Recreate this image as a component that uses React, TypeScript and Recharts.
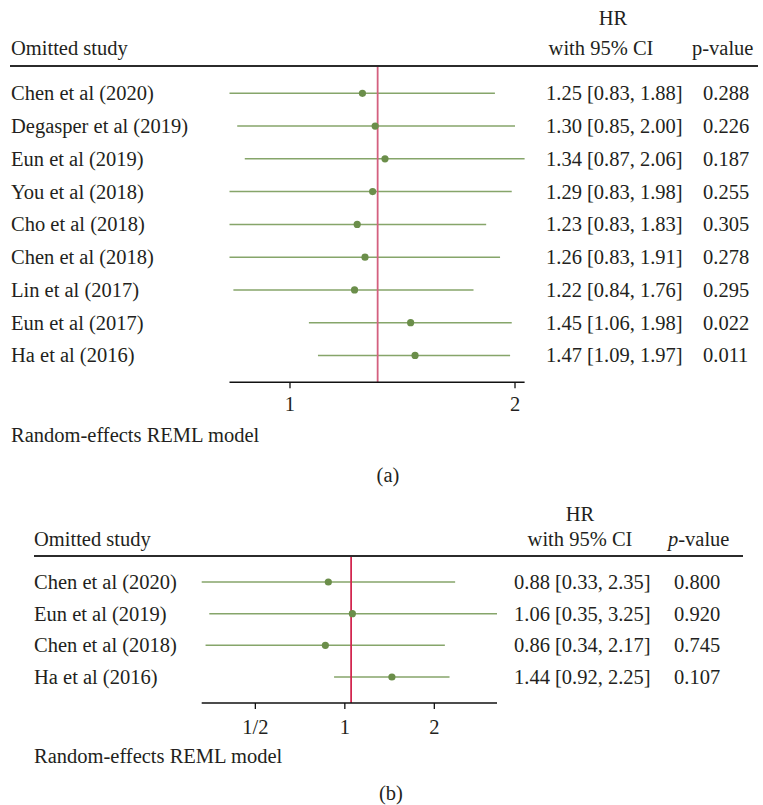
import React from 'react'
import { ScatterChart, Scatter, XAxis, YAxis, ErrorBar, ReferenceLine } from 'recharts'

// panel (a): all studies
const studiesA = [
  'Chen et al (2020)',
  'Degasper et al (2019)',
  'Eun et al (2019)',
  'You et al (2018)',
  'Cho et al (2018)',
  'Chen et al (2018)',
  'Lin et al (2017)',
  'Eun et al (2017)',
  'Ha et al (2016)',
]
const hrA = [1.25, 1.3, 1.34, 1.29, 1.23, 1.26, 1.22, 1.45, 1.47]
const lowA = [0.83, 0.85, 0.87, 0.83, 0.83, 0.83, 0.84, 1.06, 1.09]
const highA = [1.88, 2.0, 2.06, 1.98, 1.83, 1.91, 1.76, 1.98, 1.97]
const pA = ['0.288', '0.226', '0.187', '0.255', '0.305', '0.278', '0.295', '0.022', '0.011']
const overallA = 1.31
const ticksA = [1, 2]

// panel (b): subgroup
const studiesB = ['Chen et al (2020)', 'Eun et al (2019)', 'Chen et al (2018)', 'Ha et al (2016)']
const hrB = [0.88, 1.06, 0.86, 1.44]
const lowB = [0.33, 0.35, 0.34, 0.92]
const highB = [2.35, 3.25, 2.17, 2.25]
const pB = ['0.800', '0.920', '0.745', '0.107']
const overallB = 1.05
const ticksB = [0.5, 1, 2]
const tickLabelsB = ['1/2', '1', '2']

const FONT = '"Liberation Serif", "Times New Roman", serif'
const FS = 20.5
const INK = '#231f20'
const CI_GREEN = '#86a56a'
const DOT_GREEN = '#6b8e4a'

const fmt = (v: number) => v.toFixed(2)

function buildRows(hr: number[], low: number[], high: number[]) {
  return hr.map((h, i) => ({ idx: i, hr: h, err: [h - low[i], high[i] - h] }))
}

function RowTick(props: any) {
  const { y, payload, names, hr, low, high, p, xName, xHr, xP } = props
  const i = payload.value
  if (names[i] === undefined) return null
  return (
    <g fontFamily={FONT} fontSize={FS} fill={INK}>
      <text x={xName} y={y} dy="0.34em" textAnchor="start">{names[i]}</text>
      <text x={xHr} y={y} dy="0.34em" textAnchor="start">
        {`${fmt(hr[i])} [${fmt(low[i])}, ${fmt(high[i])}]`}
      </text>
      <text x={xP} y={y} dy="0.34em" textAnchor="start">{p[i]}</text>
    </g>
  )
}

function Label({ x, cy, children, align = 'left', w = 220 }: any) {
  return (
    <div
      style={{
        position: 'absolute',
        top: cy - 12,
        left: align === 'center' ? x - w / 2 : x,
        width: w,
        textAlign: align,
        lineHeight: '24px',
        fontSize: FS,
        whiteSpace: 'nowrap',
        color: INK,
      }}
    >
      {children}
    </div>
  )
}

function Rule({ x1, x2, y }: any) {
  return <div style={{ position: 'absolute', left: x1, top: y - 1, width: x2 - x1, height: 2, background: '#2b2b2b' }} />
}

const dot = (props: any) => <circle cx={props.cx} cy={props.cy} r={3.6} fill={DOT_GREEN} />

export default function App() {
  const rowsA = buildRows(hrA, lowA, highA)
  const rowsB = buildRows(hrB, lowB, highB)

  return (
    <div style={{ position: 'absolute', left: 0, top: 0, width: 763, height: 805, fontFamily: FONT, background: '#fff' }}>
      {/* panel (a) */}
      <div style={{ position: 'absolute', left: 0, top: 0 }}>
        <ScatterChart width={763} height={420} margin={{ top: 65.8, right: 238.4, bottom: 0, left: 0 }}>
          <XAxis
            type="number"
            dataKey="hr"
            scale="log"
            domain={[0.83, 2.06]}
            allowDataOverflow
            ticks={ticksA}
            tickFormatter={(v: number) => String(v)}
            height={37.7}
            tickSize={6}
            tickMargin={8.5}
            axisLine={{ stroke: '#111', strokeWidth: 1.5 }}
            tickLine={{ stroke: '#111', strokeWidth: 1.3 }}
            tick={{ fontFamily: FONT, fontSize: FS, fill: INK }}
          />
          <YAxis
            type="number"
            dataKey="idx"
            domain={[-0.84, 8.82]}
            reversed
            allowDataOverflow
            ticks={studiesA.map((_, i) => i)}
            interval={0}
            width={229.5}
            axisLine={false}
            tickLine={false}
            tick={(p: any) => (
              <RowTick {...p} names={studiesA} hr={hrA} low={lowA} high={highA} p={pA} xName={11} xHr={546} xP={703} />
            )}
          />
          <Scatter data={rowsA} shape={dot} isAnimationActive={false}>
            <ErrorBar dataKey="err" direction="x" width={0} stroke={CI_GREEN} strokeWidth={1.5} isAnimationActive={false} />
          </Scatter>
          <ReferenceLine x={overallA} stroke="#d4607f" strokeWidth={1.8} />
        </ScatterChart>
      </div>

      <Label x={613} cy={18} align="center" w={80}>HR</Label>
      <Label x={11} cy={48}>Omitted study</Label>
      <Label x={601} cy={48} align="center" w={160}>with 95% CI</Label>
      <Label x={692} cy={48}>p-value</Label>
      <Rule x1={10} x2={758} y={65.7} />
      <Label x={11} cy={435}>Random-effects REML model</Label>
      <Label x={388} cy={475} align="center" w={60}>(a)</Label>

      {/* panel (b) */}
      <div style={{ position: 'absolute', left: 0, top: 480 }}>
        <ScatterChart width={763} height={260} margin={{ top: 75.7, right: 266, bottom: 0, left: 0 }}>
          <XAxis
            type="number"
            dataKey="hr"
            scale="log"
            domain={[0.33, 3.25]}
            allowDataOverflow
            ticks={ticksB}
            tickFormatter={(v: number) => tickLabelsB[ticksB.indexOf(v)] ?? String(v)}
            height={37}
            tickSize={6}
            tickMargin={10}
            axisLine={{ stroke: '#111', strokeWidth: 1.5 }}
            tickLine={{ stroke: '#111', strokeWidth: 1.3 }}
            tick={{ fontFamily: FONT, fontSize: FS, fill: INK }}
          />
          <YAxis
            type="number"
            dataKey="idx"
            domain={[-0.83, 3.82]}
            reversed
            allowDataOverflow
            ticks={studiesB.map((_, i) => i)}
            interval={0}
            width={201.7}
            axisLine={false}
            tickLine={false}
            tick={(p: any) => (
              <RowTick {...p} names={studiesB} hr={hrB} low={lowB} high={highB} p={pB} xName={34} xHr={514} xP={674} />
            )}
          />
          <Scatter data={rowsB} shape={dot} isAnimationActive={false}>
            <ErrorBar dataKey="err" direction="x" width={0} stroke={CI_GREEN} strokeWidth={1.5} isAnimationActive={false} />
          </Scatter>
          <ReferenceLine x={overallB} stroke="#d2264f" strokeWidth={1.8} />
        </ScatterChart>
      </div>

      <Label x={580} cy={513.7} align="center" w={80}>HR</Label>
      <Label x={34} cy={538.7}>Omitted study</Label>
      <Label x={580} cy={539.2} align="center" w={160}>with 95% CI</Label>
      <Label x={668} cy={539.2}><i>p</i>-value</Label>
      <Rule x1={34} x2={743} y={555.7} />
      <Label x={34} cy={755.8}>Random-effects REML model</Label>
      <Label x={391} cy={793} align="center" w={60}>(b)</Label>
    </div>
  )
}
